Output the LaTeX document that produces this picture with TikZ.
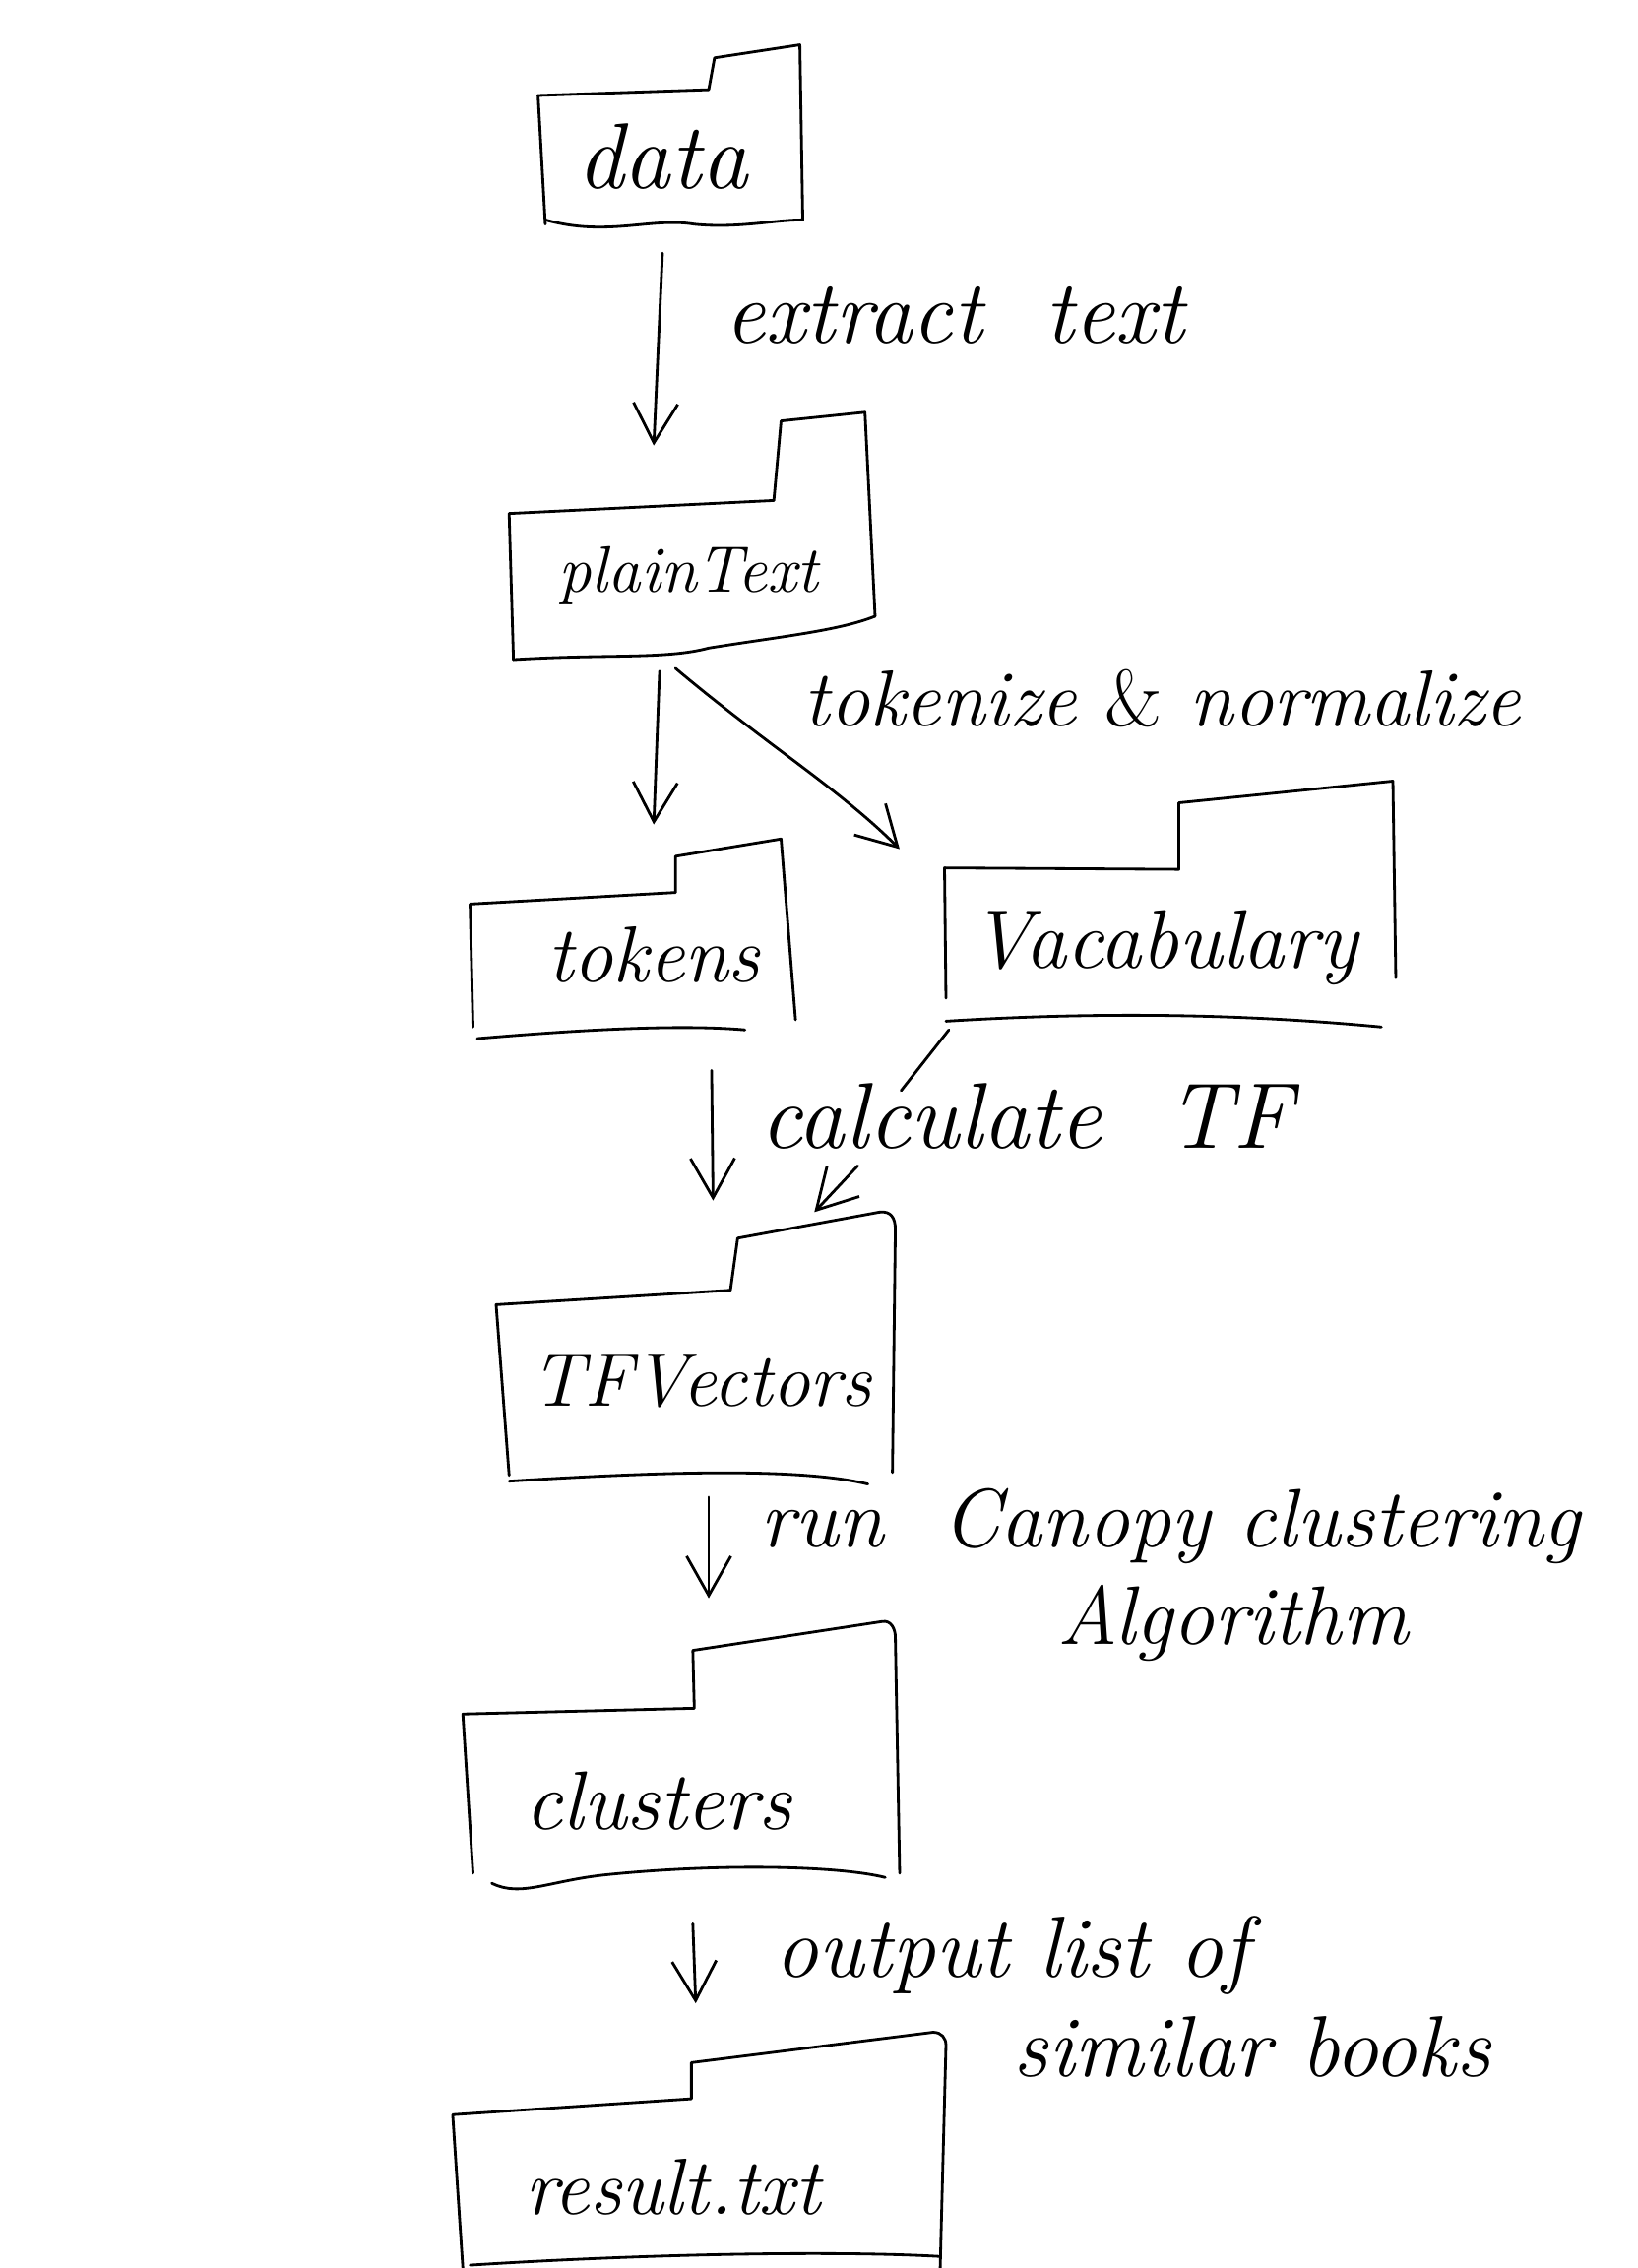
\documentclass[tikz,border=0pt]{standalone}
\usetikzlibrary{arrows.meta}
\begin{document}
\begin{tikzpicture}[x=0.0147cm,y=-0.0147cm, line width=0.8pt,
  folder/.style={line join=round, line cap=round},
  conn/.style={line cap=round, -{Straight Barb[length=4mm,width=4.5mm]}},
  lbl/.style={anchor=west, inner sep=0pt, font=\fontsize{26}{30}\selectfont\itshape},
  ftext/.style={inner sep=0pt, font=\fontsize{24}{28}\selectfont\itshape}]
\useasboundingbox (0,0) rectangle (1132,1568);

% ---------- data ----------
\draw[folder] (377,155) -- (372,66) -- (490,62) -- (494,40) -- (553,31) -- (555,152);
\draw[folder] (377,152) .. controls (420,164) and (450,150) .. (480,155) .. controls (510,158) and (535,152) .. (555,152);
\node[ftext, font=\fontsize{27}{30}\selectfont\itshape] (data) at (458,108) {data};

% ---------- plainText ----------
\draw[folder] (355,456) -- (352,355) -- (535,346) -- (540,291) -- (598,285) -- (605,426);
\draw[folder] (355,456) .. controls (420,452) and (460,456) .. (490,448) .. controls (540,440) and (580,436) .. (605,426);
\node[ftext, font=\fontsize{19}{24}\selectfont\itshape] (plain) at (476,398) {plainText};

% ---------- tokens ----------
\draw[folder] (327,710) -- (325,625) -- (467,617) -- (467,592) -- (540,580) -- (550,705);
\draw[folder] (330,718) .. controls (400,712) and (470,708) .. (515,712);
\node[ftext, font=\fontsize{23}{26}\selectfont\itshape] (tokens) at (452,660) {tokens};

% ---------- Vacabulary ----------
\draw[folder] (654,690) -- (653,600) -- (815,601) -- (815,555) -- (963,540) -- (965,676);
\draw[folder] (654,706) .. controls (750,700) and (850,700) .. (955,710);
\node[ftext, font=\fontsize{24}{28}\selectfont\itshape] (vocab) at (805,655) {Vacabulary};

% ---------- TFVectors ----------
\draw[folder] (352,1020) -- (343,902) -- (505,892) -- (510,856) -- (608,838)
  .. controls (616,837) and (619,842) .. (619,850) -- (617,1018);
\draw[folder] (352,1024) .. controls (450,1018) and (550,1014) .. (600,1026);
\node[ftext, font=\fontsize{22}{26}\selectfont\itshape] (tfv) at (485,955) {TFVectors};

% ---------- clusters ----------
\draw[folder] (327,1295) -- (320,1185) -- (480,1181) -- (479,1141) -- (610,1121)
  .. controls (616,1120) and (619,1126) .. (619,1132) -- (622,1295);
\draw[folder] (340,1302) .. controls (360,1312) and (380,1300) .. (420,1296) .. controls (500,1288) and (580,1290) .. (612,1298);
\node[ftext, font=\fontsize{24}{28}\selectfont\itshape] (clusters) at (455,1245) {clusters};

% ---------- result.txt ----------
\draw[folder] (320,1568) -- (313,1462) -- (478,1451) -- (478,1426) -- (645,1405)
  .. controls (651,1405) and (654,1409) .. (654,1414) -- (650,1568);
\draw[folder] (325,1566) .. controls (450,1558) and (580,1556) .. (650,1560);
\node[ftext, font=\fontsize{23}{26}\selectfont\itshape] (result) at (465,1512) {result.txt};

% ---------- connector endpoints ----------
\coordinate (dataS) at (458,175);
\coordinate (plainN) at (452,308);
\coordinate (plainS1) at (456,464);
\coordinate (plainS2) at (467,462);
\coordinate (tokensN) at (452,570);
\coordinate (vocabN) at (622,587);
\coordinate (tokensS) at (492,740);
\coordinate (vocabS) at (656,712);
\coordinate (gapA) at (623,754);
\coordinate (gapB) at (593,806);
\coordinate (tfvN1) at (493,830);
\coordinate (tfvN2) at (563,838);
\coordinate (tfvS) at (490,1035);
\coordinate (clustersN) at (490,1105);
\coordinate (clustersS) at (479,1330);
\coordinate (resultN) at (481,1385);

% ---------- connectors ----------
\draw[conn] (dataS) -- (plainN);
\draw[conn] (plainS1) -- (tokensN);
\draw[conn] (plainS2) .. controls (530,515) and (580,545) .. (vocabN);
\draw[conn] (tokensS) -- (tfvN1);
\draw[conn] (vocabS) -- (gapA) (gapB) -- (tfvN2);
\draw[conn] (tfvS) -- (clustersN);
\draw[conn] (clustersS) -- (resultN);

% ---------- labels ----------
\node[lbl] (l1) at (500,218) {extract\ \ text};
\node[lbl, font=\fontsize{23}{28}\selectfont\itshape] (l2) at (555,483) {tokenize {\upshape\&} normalize};
\node[lbl, font=\fontsize{27}{30}\selectfont\itshape] (l3) at (525,772) {calculate\ \ TF};
\node[lbl, font=\fontsize{24}{28}\selectfont\itshape] (l4) at (525,1055) {run\ \ Canopy clustering};
\node[lbl, font=\fontsize{24}{28}\selectfont\itshape] (l5) at (730,1122) {Algorithm};
\node[lbl, font=\fontsize{25}{28}\selectfont\itshape] (l6) at (535,1352) {output list of};
\node[lbl, font=\fontsize{25}{28}\selectfont\itshape] (l7) at (700,1415) {similar books};
\end{tikzpicture}
\end{document}
